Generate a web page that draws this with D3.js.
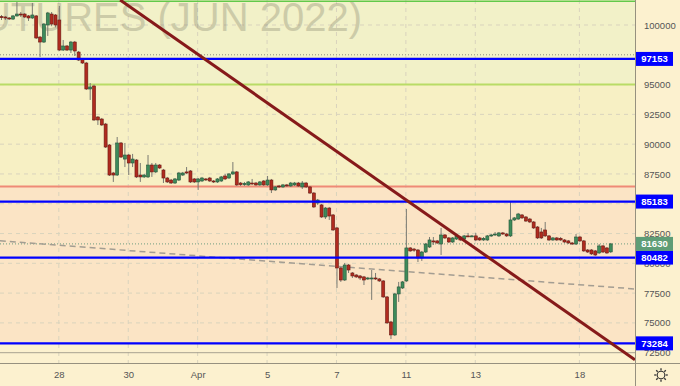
<!DOCTYPE html>
<html>
<head>
<meta charset="utf-8">
<script src="https://cdn.jsdelivr.net/npm/d3@7"></script>
<style>
  body { margin: 0; background: #fcf1cf; }
  svg { display: block; font-family: "Liberation Sans", Arial, sans-serif; }
</style>
</head>
<body>
<svg id="canvas"></svg>
<script>
const dayLabels = ['28', '30', 'Apr', '5', '7', '11', '13', '18'];
const dayStarts = [15, 33, 51, 69, 87, 105, 123, 150];
const priceTicks = d3.range(72500, 100001, 2500);

const opens = [100700,100670,100590,100500,100760,100920,100920,100760,100590,100760,98990,98570,100000,100920,100840,100420,97900,98240,97900,98570,
  97730,97150,96810,94630,94880,92280,92110,91690,89930,87580,87410,90100,88750,89090,88420,88670,87410,87250,87250,88250,
  87670,88250,87830,87160,86990,86740,86990,87410,87670,87750,87080,86830,86910,87080,87160,86910,86830,86910,87330,87160,
  87500,87670,86740,86600,86580,86740,86740,86580,86910,86580,86990,86160,86490,86410,86580,86490,86580,86740,86410,86740,
  86410,85900,85060,84900,83890,84640,84060,82970,79610,78600,79860,79190,79020,78940,78860,78690,78690,78770,78690,78520,
  77180,75080,73990,77430,77930,78520,81290,81200,81120,80450,80950,81370,81880,81880,81620,82380,82130,81790,82040,82210,
  82040,82300,82250,82300,82130,81960,81960,82300,82380,82300,82550,82460,82300,83640,83720,84060,83890,83720,83470,83050,
  82630,82800,82300,81960,82130,82100,81960,81880,81710,81620,82210,81880,81120,81120,81040,80870,81460,81290,80960];
const highs = [100840,100760,100670,100840,101930,101090,101000,100840,101850,100840,99080,100170,101100,101090,100920,101600,98740,98320,98660,98660,
  97820,97230,96900,95130,95000,92360,92200,91780,90010,87670,90600,90180,90100,89180,89180,88750,88420,87500,89090,88420,
  88420,88330,87920,87250,87080,87160,87670,87670,88080,87830,87160,87160,87250,87160,87250,86990,87160,87330,87500,87580,
  88500,87750,86830,86830,86910,87080,86830,86910,86990,87330,87080,86490,86580,86660,86660,86830,86830,86830,86910,86830,
  86490,85980,85400,84980,84730,84730,84140,83050,79700,80030,79950,79270,79100,79020,78940,78860,79440,79190,78770,78600,
  77260,75170,77510,78440,78520,84560,81370,81290,81200,81040,81710,82210,82210,81960,82970,82460,82210,82210,82380,82300,
  82380,82550,82380,82550,82210,82210,82380,82460,82630,82630,82630,82550,85230,83890,84230,84140,83970,83810,83550,83130,
  82970,83470,82380,82210,82210,82210,82040,81960,81790,82460,82300,81960,81200,81200,81120,81620,81540,81370,81710];
const lows = [100420,100420,100420,100420,100700,100670,100590,100340,100500,98830,97320,98490,99080,99900,99800,97820,97820,97820,97650,97400,
  96980,96730,94550,93710,91950,91610,91530,89680,87330,86830,87330,88840,88080,87410,88080,87160,86830,87160,87160,87250,
  87580,87920,86740,86740,86660,86660,86910,87330,87500,86740,86740,86160,86830,86910,86830,86740,86740,86830,86990,87080,
  87410,86490,86490,86490,86490,86580,86490,86490,86490,86490,85900,86080,86320,86320,86410,86410,86490,86410,86240,86320,
  85820,84650,84900,83810,83720,83640,82720,77930,78440,78520,79190,78770,78770,78600,78180,78600,76930,78600,78440,77100,
  74920,73650,73900,76760,77850,78440,80960,80960,80110,80200,80870,81290,81540,81620,80700,82040,81710,81710,81960,81880,
  81960,82210,82210,81880,81880,81880,81880,82210,82300,82210,82380,82210,82210,83550,83640,83720,83470,83380,82880,82040,
  82040,82210,81880,81880,81880,81880,81710,81620,81540,81540,81790,80960,80870,80700,80620,80790,80870,80790,80870];
const closes = [100650,100590,100520,100760,100920,100880,100670,100590,100840,98910,98570,100080,101010,100080,100000,97900,98240,97900,98570,97820,
  97060,96810,94630,94800,92030,92030,91610,89760,87410,87410,90100,88920,89090,88420,88750,87250,87250,87410,88250,87670,
  88250,88000,87160,86830,86740,87080,87580,87580,87580,86830,86830,87080,87160,87000,86910,86830,87080,87250,87080,87500,
  87670,86580,86600,86700,86830,86660,86580,86830,86580,86990,86160,86410,86410,86580,86500,86740,86740,86490,86740,86410,
  85900,84730,85310,83890,84640,83970,82800,79610,78600,79860,79440,78940,78860,78770,78600,78770,78770,78690,78520,77180,
  75000,73990,77430,78020,78440,81290,81040,81100,80450,80950,81620,81960,81790,81710,82380,82130,81790,82130,82300,81960,
  82300,82250,82300,81960,81960,82100,82300,82380,82460,82550,82460,82300,83640,83810,84140,83810,83550,83470,82970,82130,
  82130,82300,81960,82130,81960,81960,81790,81710,81620,82210,81880,81040,80950,80790,80700,81460,80950,80870,81630];

const levels = [97153, 85183, 80482, 73284];
const lastPrice = 81630;
const zoneEdges = [102000, 95000, 86450, 73284];
const zoneColors = ['#f2f1c8', '#f7f0c4', '#fbe4c5'];
const dottedLevel = 97500;
const greyLevel = 72500;
const trendLine = [[30.9, 102100], [164.4, 71900]];
const dashedTrend = [[-0.3, 81890], [164.4, 77850]];

const width = 680;
const height = 386;
const plotW = 635;
const plotH = 363;

const x = d3.scaleLinear().domain([0, 158]).range([1, 1 + 158 * 3.856]);
const y = d3.scaleLinear().domain([72500, 100000]).range([352.7, 25]);

const svg = d3.select('#canvas')
              .attr('width', width)
              .attr('height', height);

svg.append('rect')
   .attr('width', width)
   .attr('height', height)
   .attr('fill', '#fcf1cf');

svg.append('clipPath')
   .attr('id', 'plot-clip')
   .append('rect')
   .attr('width', plotW)
   .attr('height', plotH);

const plot = svg.append('g').attr('clip-path', 'url(#plot-clip)');

// coloured bands
plot.selectAll('rect.zone')
    .data(zoneColors)
    .enter()
    .append('rect')
    .attr('class', 'zone')
    .attr('x', 0)
    .attr('width', plotW)
    .attr('y', (d, i) => y(zoneEdges[i]))
    .attr('height', (d, i) => y(zoneEdges[i + 1]) - y(zoneEdges[i]))
    .attr('fill', d => d);

// grid
plot.selectAll('line.hgrid')
    .data(priceTicks.filter(d => d !== dottedLevel && d !== greyLevel))
    .enter()
    .append('line')
    .attr('x1', 0).attr('x2', plotW)
    .attr('y1', d => y(d)).attr('y2', d => y(d))
    .attr('stroke', '#d9d3bd')
    .attr('stroke-dasharray', '4,4');

plot.selectAll('line.vgrid')
    .data(dayStarts)
    .enter()
    .append('line')
    .attr('x1', d => x(d)).attr('x2', d => x(d))
    .attr('y1', 0).attr('y2', plotH)
    .attr('stroke', '#d9d3bd')
    .attr('stroke-dasharray', '4,4');

plot.append('line')
    .attr('x1', 0).attr('x2', plotW)
    .attr('y1', y(dottedLevel)).attr('y2', y(dottedLevel))
    .attr('stroke', '#8c8c80')
    .attr('stroke-dasharray', '1,2');

plot.append('line')
    .attr('x1', 0).attr('x2', plotW)
    .attr('y1', y(greyLevel)).attr('y2', y(greyLevel))
    .attr('stroke', '#a8a290');

// watermark
plot.append('text')
    .attr('x', 362)
    .attr('y', 31)
    .attr('text-anchor', 'end')
    .attr('font-size', 40)
    .attr('fill', '#6e6c58')
    .attr('opacity', 0.28)
    .text('FUTURES (JUN 2022)');

// band edges
plot.append('line')
    .attr('x1', 0).attr('x2', plotW)
    .attr('y1', y(zoneEdges[0])).attr('y2', y(zoneEdges[0]))
    .attr('stroke', '#62c94a')
    .attr('stroke-width', 1.5);

plot.append('line')
    .attr('x1', 0).attr('x2', plotW)
    .attr('y1', y(zoneEdges[1])).attr('y2', y(zoneEdges[1]))
    .attr('stroke', '#b9dc66')
    .attr('stroke-width', 2);

plot.append('line')
    .attr('x1', 0).attr('x2', plotW)
    .attr('y1', y(zoneEdges[2])).attr('y2', y(zoneEdges[2]))
    .attr('stroke', '#ef8a76')
    .attr('stroke-width', 2);

plot.append('line')
    .attr('x1', 0).attr('x2', plotW)
    .attr('y1', y(lastPrice)).attr('y2', y(lastPrice))
    .attr('stroke', '#6f9f80')
    .attr('stroke-dasharray', '1,2');

const lineGen = d3.line().x(d => x(d[0])).y(d => y(d[1]));

plot.append('path')
    .attr('d', lineGen(dashedTrend))
    .attr('fill', 'none')
    .attr('stroke', '#a39d92')
    .attr('stroke-width', 1.5)
    .attr('stroke-dasharray', '6,4');

// candles
const candles = d3.range(opens.length).map(i => ({
  i: i, o: opens[i], h: highs[i], l: lows[i], c: closes[i]
}));

const candle = plot.selectAll('g.candle')
                   .data(candles)
                   .enter()
                   .append('g')
                   .attr('class', 'candle');

candle.append('line')
      .attr('x1', d => x(d.i) + 0.5).attr('x2', d => x(d.i) + 0.5)
      .attr('y1', d => y(d.h)).attr('y2', d => y(d.l))
      .attr('stroke', '#7a7a72')
      .attr('stroke-width', 1);

candle.append('rect')
      .attr('x', d => x(d.i) - 1)
      .attr('width', 3)
      .attr('y', d => y(Math.max(d.o, d.c)))
      .attr('height', d => Math.max(1, Math.abs(y(d.o) - y(d.c))))
      .attr('fill', d => d.c >= d.o ? '#3d8b5a' : '#b02b1f')
      .attr('stroke', d => d.c >= d.o ? '#24553a' : '#6a1812')
      .attr('stroke-width', 0.6);

// levels
plot.selectAll('line.level')
    .data(levels)
    .enter()
    .append('line')
    .attr('x1', 0).attr('x2', plotW)
    .attr('y1', d => y(d)).attr('y2', d => y(d))
    .attr('stroke', '#0000ff')
    .attr('stroke-width', 2.2);

plot.append('path')
    .attr('d', lineGen(trendLine))
    .attr('fill', 'none')
    .attr('stroke', '#861a1a')
    .attr('stroke-width', 3);

// axes frame
svg.append('line')
   .attr('x1', plotW + 0.5).attr('x2', plotW + 0.5)
   .attr('y1', 0).attr('y2', height)
   .attr('stroke', '#96917f');

svg.append('line')
   .attr('x1', 0).attr('x2', width)
   .attr('y1', plotH + 0.5).attr('y2', plotH + 0.5)
   .attr('stroke', '#96917f');

const yAxis = d3.axisRight(y)
                .tickValues(priceTicks)
                .tickFormat(d3.format('d'))
                .tickSize(0)
                .tickPadding(9);

svg.append('g')
   .attr('transform', `translate(${plotW}, 0)`)
   .call(yAxis)
   .call(g => g.select('.domain').remove())
   .selectAll('text')
   .attr('font-size', 9.5)
   .attr('font-family', '"Liberation Sans", Arial, sans-serif')
   .attr('fill', '#555');

const xAxis = d3.axisBottom(x)
                .tickValues(dayStarts)
                .tickFormat((d, i) => dayLabels[i])
                .tickSize(0)
                .tickPadding(8);

svg.append('g')
   .attr('transform', `translate(0, ${plotH})`)
   .call(xAxis)
   .call(g => g.select('.domain').remove())
   .selectAll('text')
   .attr('font-size', 9.5)
   .attr('font-family', '"Liberation Sans", Arial, sans-serif')
   .attr('fill', '#555');

// price tags
const tags = levels.map(v => ({ v: v, fill: '#0000ff' }))
                   .concat([{ v: lastPrice, fill: '#5e9d76' }]);

const tag = svg.selectAll('g.tag')
               .data(tags)
               .enter()
               .append('g')
               .attr('class', 'tag')
               .attr('transform', d => `translate(${plotW + 1}, ${y(d.v)})`);

tag.append('rect')
   .attr('x', 0).attr('y', -7)
   .attr('width', 37).attr('height', 14)
   .attr('fill', d => d.fill);

tag.append('text')
   .attr('x', 18.5)
   .attr('y', 3.5)
   .attr('text-anchor', 'middle')
   .attr('font-size', 9.5)
   .attr('font-weight', 'bold')
   .attr('fill', '#fff')
   .text(d => d.v);

// settings icon
const gear = svg.append('g').attr('transform', 'translate(661, 375)');
gear.append('circle')
    .attr('r', 3.8)
    .attr('fill', 'none')
    .attr('stroke', '#333')
    .attr('stroke-width', 1.1);
gear.selectAll('line')
    .data(d3.range(8))
    .enter()
    .append('line')
    .attr('x1', d => 4.6 * Math.cos(d * Math.PI / 4))
    .attr('y1', d => 4.6 * Math.sin(d * Math.PI / 4))
    .attr('x2', d => 6.8 * Math.cos(d * Math.PI / 4))
    .attr('y2', d => 6.8 * Math.sin(d * Math.PI / 4))
    .attr('stroke', '#333')
    .attr('stroke-width', 1.3);
</script>
</body>
</html>
